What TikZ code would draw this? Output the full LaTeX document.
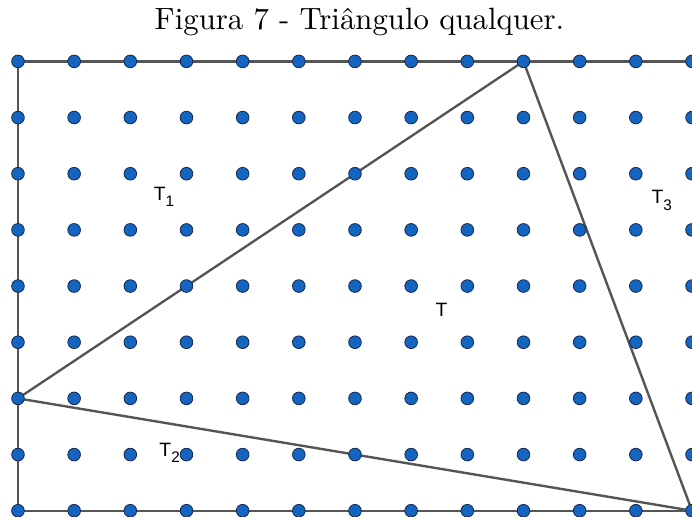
\documentclass[tikz,border=0pt]{standalone}
\usepackage{fontspec}
\setsansfont{Liberation Sans}
\newfontfamily\titlefont{lmroman10-regular.otf}
\usetikzlibrary{positioning}

\definecolor{dotblue}{RGB}{21,101,192}
\definecolor{dotedge}{RGB}{20,40,80}
\definecolor{linegray}{RGB}{85,85,85}

\newcommand{\regionlabel}[1]{T\raisebox{-5pt}{\fontsize{11.5}{12}\selectfont #1}}

\begin{document}
\begin{tikzpicture}[
        x=42.15pt, y=42.15pt,
        dot/.style={circle, draw=dotedge, line width=0.6pt, fill=dotblue, inner sep=0pt, minimum size=9.5pt},
        edge/.style={draw=linegray, line width=1.8pt},
        region/.style={font=\sffamily\fontsize{14.5}{16}\selectfont, inner sep=0pt}
    ]
        \useasboundingbox (-0.32,-0.107) rectangle (12,9.093);

        % Title
        \node[font=\titlefont\fontsize{23.1}{26}\selectfont] (title) at (6.08,8.70) {Figura 7 - Triângulo qualquer.};

        % Grid points
        \foreach \i in {0,...,12}
            \foreach \j in {0,...,8}
                \coordinate (p-\i-\j) at (\i,\j);

        % Rectangle
        \draw[edge] (p-12-8) -- (p-0-8) -- (p-0-0) -- (p-12-0);

        % Triangle
        \draw[edge, line join=round] (p-0-2) -- (p-9-8) -- (p-12-0) -- cycle;

        % Dots
        \foreach \i in {0,...,12}
            \foreach \j in {0,...,8}
                \node[dot] (d-\i-\j) at (p-\i-\j) {};

        % Labels
        \node[region] (t) at (7.54,3.58) {T};
        \node[region] (t1) at (2.60,5.59) {\regionlabel{1}};
        \node[region] (t2) at (2.70,1.03) {\regionlabel{2}};
        \node[region] (t3) at (11.46,5.52) {\regionlabel{3}};

    \end{tikzpicture}
\end{document}
